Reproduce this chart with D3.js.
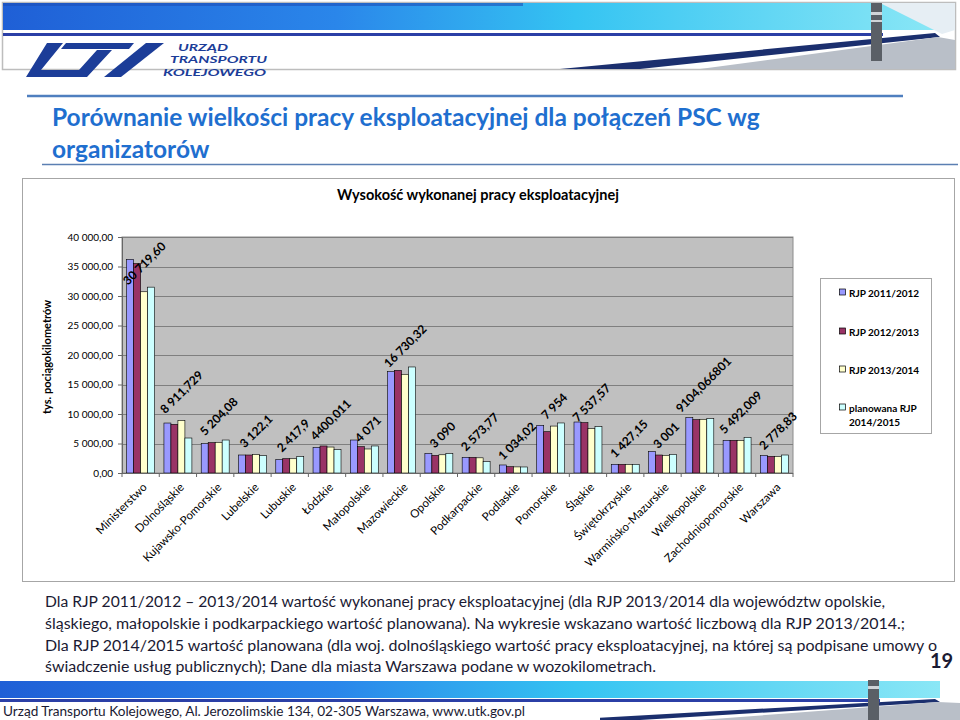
<!DOCTYPE html>
<html><head><meta charset="utf-8">
<script src="https://cdn.jsdelivr.net/npm/d3@7"></script>
<style>
html,body{margin:0;padding:0;background:#fff;}
svg{display:block;}
text{font-family:Lato,"Open Sans",sans-serif;}
</style></head>
<body>
<svg id="c" width="960" height="720"></svg>
<script>
// ---- data ----
const categories = ["Ministerstwo","Dolnośląskie","Kujawsko-Pomorskie","Lubelskie","Lubuskie","Łódzkie","Małopolskie","Mazowieckie","Opolskie","Podkarpackie","Podlaskie","Pomorskie","Śląskie","Świętokrzyskie","Warmińsko-Mazurskie","Wielkopolskie","Zachodniopomorskie","Warszawa"];
const seriesNames = ["RJP 2011/2012","RJP 2012/2013","RJP 2013/2014","planowana RJP 2014/2015"];
const rjp2011 = [36200, 8470, 4970, 3050, 2260, 4350, 5590, 17180, 3330, 2660, 1360, 8080, 8640, 1470, 3620, 9380, 5540, 2940];
const rjp2012 = [35500, 8250, 5140, 3050, 2430, 4580, 4460, 17400, 2990, 2660, 1070, 7000, 8530, 1470, 3050, 9040, 5540, 2830];
const rjp2013 = [30719.60, 8911.729, 5204.08, 3122.1, 2417.9, 4400.011, 4071, 16730.32, 3090, 2573.77, 1034.02, 7954, 7537.57, 1427.15, 3001, 9104.066801, 5492.009, 2778.83];
const rjp2014 = [31500, 5930, 5590, 2940, 2770, 3950, 4580, 17970, 3280, 1920, 1020, 8480, 7850, 1470, 3160, 9210, 6050, 3050];
const valueLabels = ["30 719,60","8 911,729","5 204,08","3 122,1","2 417,9","4400,011","4 071","16 730,32","3 090","2 573,77","1 034,02","7 954","7 537,57","1 427,15","3 001","9104,066801","5 492,009","2 778,83"];
const yTicks = [0,5000,10000,15000,20000,25000,30000,35000,40000];
const seriesColors = ["#9999FF","#993366","#FFFFCC","#CCFFFF"];

const svg = d3.select("#c");
const defs = svg.append("defs");

function makeGrad(id){
  const g = defs.append("linearGradient").attr("id",id).attr("gradientUnits","userSpaceOnUse")
    .attr("x1",0).attr("x2",960).attr("y1",0).attr("y2",0);
  g.append("stop").attr("offset","0").attr("stop-color","#1f5fd6");
  g.append("stop").attr("offset","0.35").attr("stop-color","#2a86ea");
  g.append("stop").attr("offset","0.6").attr("stop-color","#35c4f2");
  g.append("stop").attr("offset","1").attr("stop-color","#8fe9f6");
}
makeGrad("bandTop"); makeGrad("bandBot");

// ---- header decoration ----
const hdr = svg.append("g");
hdr.append("rect").attr("x",2.5).attr("y",2.5).attr("width",953).attr("height",67).attr("fill","#fff").attr("stroke","#bdbdbd").attr("stroke-width",1.5);
hdr.append("rect").attr("x",3).attr("y",3).attr("width",945).attr("height",27).style("fill","url(#bandTop)");
hdr.append("rect").attr("x",3).attr("y",3).attr("width",520).attr("height",3).attr("fill","#1d4fb8").attr("opacity",0.6);
hdr.append("rect").attr("x",3).attr("y",33).attr("width",880).attr("height",3).attr("fill","#2b3fa6");
hdr.append("path").attr("d","M560,69 L935,33 L940,37 L640,69 Z").attr("fill","#1b2f6e");
hdr.append("path").attr("d","M700,69 L938,37 L955,40 L955,69 Z").attr("fill","#b9bfc8");
hdr.append("path").attr("d","M880,3 L955,3 L955,30 L942,34 Z").attr("fill","#e6eef4");
hdr.append("rect").attr("x",871).attr("y",3).attr("width",11).attr("height",58).attr("fill","#5a5f66");
hdr.append("rect").attr("x",871).attr("y",12).attr("width",11).attr("height",3).attr("fill","#d0d4d8");
hdr.append("rect").attr("x",871).attr("y",20).attr("width",11).attr("height",2).attr("fill","#d0d4d8");
// logo
const logoC = "#1c3d98";
hdr.append("path").attr("d","M47,43 L63,43 L41,70 L79,70 L97,50 L112,50 L87,77 L26,77 Z").attr("fill",logoC);
hdr.append("path").attr("d","M66,43 L134,43 L129,49 L61,49 Z").attr("fill",logoC);
hdr.append("path").attr("d","M146,43 L164,43 L121,77 L104,77 Z").attr("fill",logoC);
const lt = [["URZĄD",178,51,50],["TRANSPORTU",170,63,97],["KOLEJOWEGO",163,76,103]];
lt.forEach(d=>{
  hdr.append("text").attr("x",d[1]).attr("y",d[2]).text(d[0])
    .attr("font-family","DejaVu Sans").attr("font-style","italic").attr("font-weight","bold")
    .attr("font-size",10).attr("fill",logoC).attr("textLength",d[3]).attr("lengthAdjust","spacingAndGlyphs");
});
svg.append("line").attr("x1",27).attr("x2",903).attr("y1",96).attr("y2",96).attr("stroke","#4f7fbf").attr("stroke-width",2.5);

// ---- slide title ----
const titleC = "#1f6fcf";
svg.append("text").attr("x",52).attr("y",126).attr("font-size",24.5).attr("font-weight","bold").attr("fill",titleC)
  .text("Porównanie wielkości pracy eksploatacyjnej dla połączeń PSC wg");
svg.append("text").attr("x",52).attr("y",158).attr("font-size",24.5).attr("font-weight","bold").attr("fill",titleC)
  .text("organizatorów");
svg.append("line").attr("x1",42).attr("x2",958).attr("y1",164.5).attr("y2",164.5).attr("stroke","#5b7fb2").attr("stroke-width",1.5);

// ---- chart area ----
svg.append("rect").attr("x",22.5).attr("y",178.5).attr("width",932).attr("height",403).attr("fill","#fff").attr("stroke","#a6a6a6");
svg.append("text").attr("x",478).attr("y",200).attr("text-anchor","middle").attr("font-size",14.5).attr("font-weight","bold")
  .text("Wysokość wykonanej pracy eksploatacyjnej");

const pl = 122, pr = 793, pt = 237, pb = 473;
const y = d3.scaleLinear().domain([0,40000]).range([pb,pt]);
const x0 = d3.scaleBand().domain(categories).range([pl,pr]).paddingInner(0.25).paddingOuter(0.125);
const x1 = d3.scaleBand().domain(d3.range(4)).range([0,x0.bandwidth()]);
const data = [rjp2011,rjp2012,rjp2013,rjp2014];

svg.append("rect").attr("x",pl).attr("y",pt).attr("width",pr-pl).attr("height",pb-pt).attr("fill","#c0c0c0").attr("stroke","#8c8c8c");
svg.append("g").selectAll("line").data(yTicks.filter(d=>d>0)).join("line")
  .attr("x1",pl).attr("x2",pr).attr("y1",d=>Math.round(y(d))+0.5).attr("y2",d=>Math.round(y(d))+0.5)
  .attr("stroke","#7f7f7f").attr("stroke-width",1.2);

const loc = d3.formatLocale({decimal:",",thousands:"\u00a0",grouping:[3],currency:["",""]});
const fmt = loc.format(",.2f");
const yAxis = svg.append("g").attr("transform",`translate(${pl},0)`)
  .call(d3.axisLeft(y).tickValues(yTicks).tickFormat(fmt).tickSize(4).tickPadding(5));
yAxis.select(".domain").attr("stroke","#666");
yAxis.selectAll(".tick line").attr("stroke","#666");
yAxis.selectAll("text").attr("font-size",10).attr("fill","#000").attr("font-family","Lato");

// bars
const groups = svg.append("g").selectAll("g").data(categories).join("g")
  .attr("transform",d=>`translate(${x0(d)},0)`);
groups.selectAll("rect").data((c,i)=>data.map((s,k)=>({k,v:s[i]}))).join("rect")
  .attr("x",d=>x1(d.k)).attr("width",x1.bandwidth())
  .attr("y",d=>y(d.v)).attr("height",d=>pb-y(d.v))
  .attr("fill",d=>seriesColors[d.k]).attr("stroke","#000").attr("stroke-width",0.6);

// x axis
svg.append("line").attr("x1",pl).attr("x2",pr).attr("y1",pb+0.5).attr("y2",pb+0.5).attr("stroke","#666");
svg.append("g").selectAll("line").data(d3.range(categories.length+1)).join("line")
  .attr("x1",i=>pl+i*x0.step()).attr("x2",i=>pl+i*x0.step()).attr("y1",pb).attr("y2",pb+4).attr("stroke","#666");
svg.append("g").selectAll("text").data(categories).join("text")
  .attr("transform",d=>`translate(${x0(d)+x0.bandwidth()/2+7},${pb+15}) rotate(-45)`)
  .attr("text-anchor","end").attr("font-size",11.5).text(d=>d);

// value labels (RJP 2013/2014)
const vl = svg.append("g").selectAll("text").data(categories).join("text")
  .attr("font-size",12).attr("font-weight","bold").attr("text-anchor","middle").attr("dominant-baseline","central")
  .text((d,i)=>valueLabels[i]);
vl.each(function(d,i){
  const w = this.getComputedTextLength();
  const h = (w+12)*Math.SQRT1_2;
  const cx = x0(d)+x1(2)+x1.bandwidth()/2;
  const cy = y(rjp2013[i]) - h/2 - 5;
  d3.select(this).attr("transform",`translate(${cx},${cy}) rotate(-45)`);
});

// y title
svg.append("text").attr("transform","translate(46,357) rotate(-90)").attr("text-anchor","middle")
  .attr("dominant-baseline","central").attr("font-size",11).attr("font-weight","bold").text("tys. pociągokilometrów");

// legend
svg.append("rect").attr("x",820.5).attr("y",278.5).attr("width",111).attr("height",155).attr("fill","#fff").attr("stroke","#a6a6a6");
const legY = [292.5,331.5,369.5,407.5];
seriesNames.forEach((n,k)=>{
  svg.append("rect").attr("x",839.5).attr("y",legY[k]-3.5).attr("width",6).attr("height",6)
    .attr("fill",seriesColors[k]).attr("stroke","#000").attr("stroke-width",0.7);
  const t = svg.append("text").attr("x",849).attr("y",legY[k]).attr("dominant-baseline","central")
    .attr("font-size",10).attr("font-weight","bold");
  if(k<3){ t.text(n); }
  else {
    t.text("planowana RJP");
    svg.append("text").attr("x",849).attr("y",legY[k]+14).attr("dominant-baseline","central")
      .attr("font-size",10).attr("font-weight","bold").text("2014/2015");
  }
});

// ---- notes ----
const notes = [
 ["Dla RJP 2011/2012 – 2013/2014 wartość wykonanej pracy eksploatacyjnej (dla RJP 2013/2014 dla województw opolskie,",607,840],
 ["śląskiego, małopolskie i podkarpackiego wartość planowana). Na wykresie wskazano wartość liczbową dla RJP 2013/2014.;",629,860],
 ["Dla RJP 2014/2015 wartość planowana (dla woj. dolnośląskiego wartość pracy eksploatacyjnej, na której są podpisane umowy o",651,892],
 ["świadczenie usług publicznych); Dane dla miasta Warszawa podane w wozokilometrach.",672,611]
];
notes.forEach(n=>{
  svg.append("text").attr("x",45).attr("y",n[1]).attr("font-size",15.5).attr("fill","#1a1a33")
    .attr("textLength",n[2]).attr("lengthAdjust","spacingAndGlyphs").text(n[0]);
});
svg.append("text").attr("x",930).attr("y",668).attr("font-size",20).attr("font-weight","bold").attr("fill","#1a1a33").text("19");

// ---- footer decoration ----
const ft = svg.append("g");
ft.append("rect").attr("x",0).attr("y",681).attr("width",940).attr("height",17).style("fill","url(#bandBot)");
ft.append("rect").attr("x",0).attr("y",699).attr("width",880).attr("height",3).attr("fill","#2b3fa6");
ft.append("path").attr("d","M560,720 L935,699 L940,702 L640,720 Z").attr("fill","#1b2f6e");
ft.append("path").attr("d","M700,720 L938,702 L960,703 L960,720 Z").attr("fill","#b9bfc8");
ft.append("rect").attr("x",868).attr("y",680).attr("width",11).attr("height",40).attr("fill","#5a5f66");
ft.append("rect").attr("x",868).attr("y",686).attr("width",11).attr("height",3).attr("fill","#d0d4d8");
ft.append("rect").attr("x",0).attr("y",703).attr("width",600).attr("height",17).attr("fill","#fff");
ft.append("text").attr("x",3).attr("y",716).attr("font-size",13.5).attr("fill","#1a1a33")
  .attr("textLength",522).attr("lengthAdjust","spacingAndGlyphs")
  .text("Urząd Transportu Kolejowego, Al. Jerozolimskie 134, 02-305 Warszawa, www.utk.gov.pl");
</script>
</body></html>
